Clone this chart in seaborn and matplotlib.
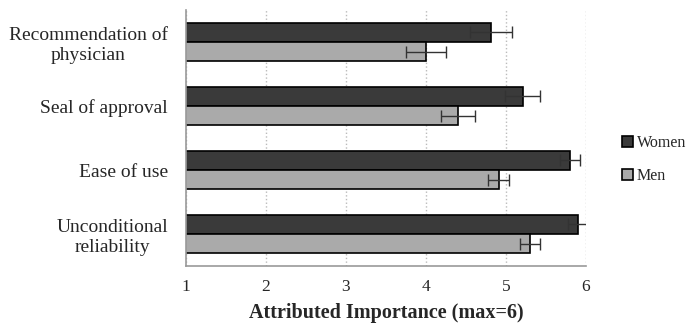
import pandas as pd
import matplotlib
matplotlib.use("Agg")
import matplotlib.pyplot as plt
import seaborn as sns

# data
categories = ["Recommendation of\nphysician", "Seal of approval", "Ease of use",
              "Unconditional\nreliability"]
women = [4.81, 5.21, 5.80, 5.90]
men = [4.00, 4.40, 4.91, 5.30]
women_err = [0.26, 0.22, 0.13, 0.12]
men_err = [0.25, 0.21, 0.13, 0.13]
groups = ["Women", "Men"]
colors = {"Women": "#3a3a3a", "Men": "#aaaaaa"}

df = pd.DataFrame({
    "category": categories * 2,
    "group": ["Women"] * len(categories) + ["Men"] * len(categories),
    "value": women + men,
    "err": women_err + men_err,
})

sns.set_style("white")
plt.rcParams["font.family"] = ["Liberation Serif", "DejaVu Serif"]

fig = plt.figure(figsize=(6.87, 3.24), dpi=100)
ax = fig.add_axes([0.2707, 0.179, 0.5823, 0.79])

sns.barplot(data=df, y="category", x="value", hue="group", order=categories,
            hue_order=groups, palette=colors, orient="h", width=0.6,
            edgecolor="black", linewidth=1.2, errorbar=None, ax=ax, legend=True)

# error bars placed on the bars seaborn drew
for patch, (_, row) in zip(ax.patches, df.iterrows()):
    yc = patch.get_y() + patch.get_height() / 2
    ax.errorbar(patch.get_width(), yc, xerr=row["err"], fmt="none",
                ecolor="#333333", elinewidth=1.0, capsize=4.5, capthick=1.0)

ax.set_xlim(1, 6)
ax.set_ylim(3.5, -0.5)
ax.set_xticks([1, 2, 3, 4, 5, 6])
ax.tick_params(axis="x", labelsize=12.5, length=0, pad=9)
ax.set_yticks(range(len(categories)))
ax.set_yticklabels(categories, fontsize=14, ha="right", multialignment="center")
ax.tick_params(axis="y", length=0, pad=13)
ax.set_yticks([-0.5, 0.5, 1.5, 2.5, 3.5], minor=True)
ax.tick_params(axis="y", which="minor", length=5, color="#999999", width=1)
ax.set_ylabel("")
ax.set_xlabel("Attributed Importance (max=6)", fontsize=14.5, fontweight="bold", labelpad=6)

ax.grid(axis="x", linestyle=":", color="#bbbbbb", linewidth=1)
ax.set_axisbelow(True)
for side in ["top", "right"]:
    ax.spines[side].set_visible(False)
for side in ["left", "bottom"]:
    ax.spines[side].set_color("#999999")
    ax.spines[side].set_linewidth(1.2)

handles, labels = ax.get_legend_handles_labels()
ax.get_legend().remove()
fig.legend(handles, labels, loc="center left", bbox_to_anchor=(0.905, 0.508),
           frameon=False, fontsize=11.5, handlelength=0.7, handleheight=0.7,
           handletextpad=0.25, labelspacing=1.05, borderpad=0, borderaxespad=0)

fig.savefig("out.png", dpi=100)
